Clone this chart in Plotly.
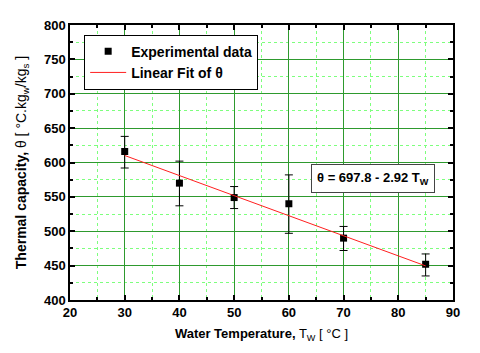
import plotly.graph_objects as go

# experimental data
temps = [30, 40, 50, 60, 70, 85]
theta = [616, 570, 549, 540, 490, 452]
err_plus = [22, 32, 16, 42, 17, 15]
err_minus = [24, 33, 16, 43, 18, 17]

# linear fit theta = 697.8 - 2.92 Tw
fit_x = [30, 85]
fit_y = [697.8 - 2.92 * t for t in fit_x]

font = "Liberation Sans, Arial, sans-serif"

fig = go.Figure()
fig.add_trace(go.Scatter(
    x=temps, y=theta, mode="markers", name="<b>Experimental data</b>",
    marker=dict(symbol="square", size=7, color="black"),
    error_y=dict(type="data", symmetric=False, array=err_plus, arrayminus=err_minus,
                 color="black", thickness=1, width=4),
))
fig.add_trace(go.Scatter(
    x=fit_x, y=fit_y, mode="lines", name="<b>Linear Fit of θ</b>",
    line=dict(color="#ff2020", width=1),
))

axis_common = dict(
    showline=True, linecolor="black", linewidth=1.5, mirror="ticks",
    ticks="inside", ticklen=5, tickwidth=1.5, tickcolor="black",
    showgrid=True, gridcolor="#2e9a2e", gridwidth=1, zeroline=False,
    tickfont=dict(family=font, size=13, color="black", weight="bold"),
)

fig.update_xaxes(
    range=[20, 90], dtick=10,
    minor=dict(dtick=5, ticks="inside", ticklen=3, tickcolor="black",
               showgrid=True, gridcolor="#7dff7d", griddash="dot", gridwidth=1),
    title=dict(text="<b>Water Temperature,</b> T<sub>W</sub> [ °C ]",
               font=dict(family=font, size=13, color="black"), standoff=10),
    **axis_common,
)
fig.update_yaxes(
    range=[400, 800], dtick=50,
    minor=dict(dtick=25, ticks="inside", ticklen=3, tickcolor="black",
               showgrid=True, gridcolor="#7dff7d", griddash="dot", gridwidth=1),
    title=dict(text="<b>Thermal capacity,</b> θ [ °C.kg<sub>w</sub>/kg<sub>s</sub> ]",
               font=dict(family=font, size=14, color="black"), standoff=14),
    **axis_common,
)

fig.add_annotation(
    xref="paper", yref="paper", x=0.79, y=0.441, xanchor="center", yanchor="middle",
    text="<b>θ = 697.8 - 2.92 T<sub>W</sub></b>", showarrow=False,
    font=dict(family=font, size=13, color="black"),
    bordercolor="#444", borderwidth=1, borderpad=5, bgcolor="white",
)

fig.update_layout(
    width=480, height=353,
    margin=dict(l=62, r=35, t=10, b=61),
    plot_bgcolor="white", paper_bgcolor="white",
    legend=dict(x=0.037, y=0.965, xanchor="left", yanchor="top",
                bordercolor="black", borderwidth=1, bgcolor="white",
                font=dict(family=font, size=14, color="black"),
                tracegroupgap=0, itemwidth=36),
)

fig.write_html("out.html")
